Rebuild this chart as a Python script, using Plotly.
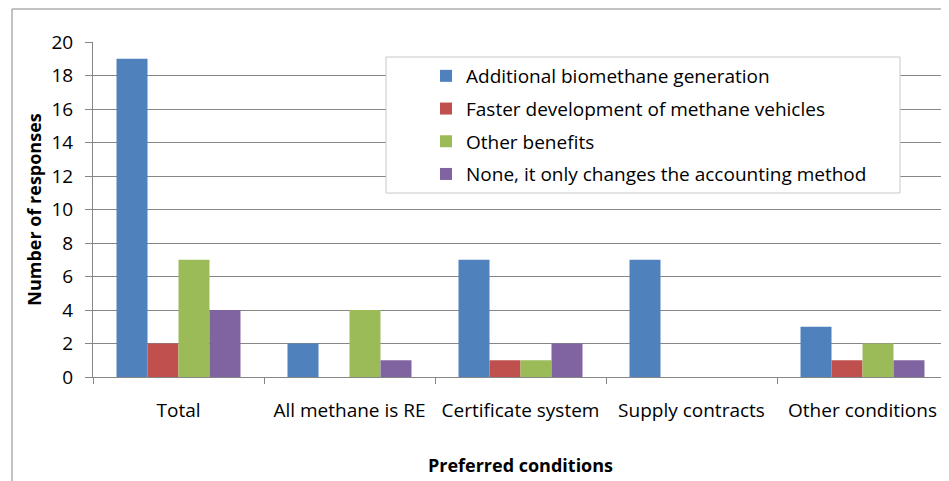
import plotly.graph_objects as go

categories = ["Total", "All methane is RE", "Certificate system", "Supply contracts", "Other conditions"]
series_names = [
    "Additional biomethane generation",
    "Faster development of methane vehicles",
    "Other benefits",
    "None, it only changes the accounting method",
]
additional = [19, 2, 7, 7, 3]
faster = [2, 0, 1, 0, 1]
other = [7, 4, 1, 0, 2]
none_ = [4, 1, 2, 0, 1]
y_ticks = [0, 2, 4, 6, 8, 10, 12, 14, 16, 18, 20]

colors = ["#4F81BD", "#C0504D", "#9BBB59", "#8064A2"]
values = [additional, faster, other, none_]

FONT = "Open Sans"
OFF = 8  # page body margin
W, H = 949 - OFF, 481 - OFF
L, R, T, B = 85, 1, 34, 104
pw, ph = W - L - R, H - T - B

fig = go.Figure()
for i, (name, vals) in enumerate(zip(series_names, values)):
    fig.add_trace(go.Bar(x=categories, y=vals, name=name, marker_color=colors[i],
                         marker_line_width=0, legendgroup=f"g{i}"))

def px_x(x):
    return (x - OFF - L) / pw

def px_y(y):
    return (H - B - (y - OFF)) / ph

fig.update_layout(
    width=W, height=H,
    margin=dict(l=L, r=R, t=T, b=B, autoexpand=False),
    paper_bgcolor="white", plot_bgcolor="white",
    barmode="group", bargap=0.275, bargroupgap=0,
    font=dict(family=FONT, size=19, color="#000000"),
    showlegend=True,
    legend=dict(x=px_x(426), y=px_y(57), xanchor="left", yanchor="top",
                bgcolor="rgba(0,0,0,0)", borderwidth=0,
                font=dict(family=FONT, size=19, color="#000000"),
                tracegroupgap=5, traceorder="grouped"),
    xaxis=dict(showline=True, linecolor="#868686", linewidth=1,
               ticks="outside", ticklen=6, tickcolor="#868686", tickson="boundaries",
               tickfont=dict(size=19), showgrid=False, ticklabelstandoff=16,
               title=dict(text="<b>Preferred conditions</b>", font=dict(size=18), standoff=37)),
    yaxis=dict(range=[0, 20], tickvals=y_ticks, showline=True, linecolor="#868686", linewidth=1,
               ticks="outside", ticklen=7, tickcolor="#868686",
               showgrid=True, gridcolor="#868686", gridwidth=1, zeroline=False,
               tickfont=dict(size=19), ticklabelstandoff=8,
               title=dict(text="<b>Number of responses</b>", font=dict(size=18), standoff=5)),
    shapes=[
        dict(type="rect", xref="paper", yref="paper",
             x0=px_x(12), x1=px_x(970), y0=px_y(500), y1=px_y(9),
             line=dict(color="#868686", width=1), fillcolor="rgba(0,0,0,0)", layer="below"),
        dict(type="rect", xref="paper", yref="paper",
             x0=px_x(386), x1=px_x(900), y0=px_y(193), y1=px_y(57),
             line=dict(color="#C8C8C8", width=1), fillcolor="white", layer="above"),
    ],
)

fig.write_html("out.html")
